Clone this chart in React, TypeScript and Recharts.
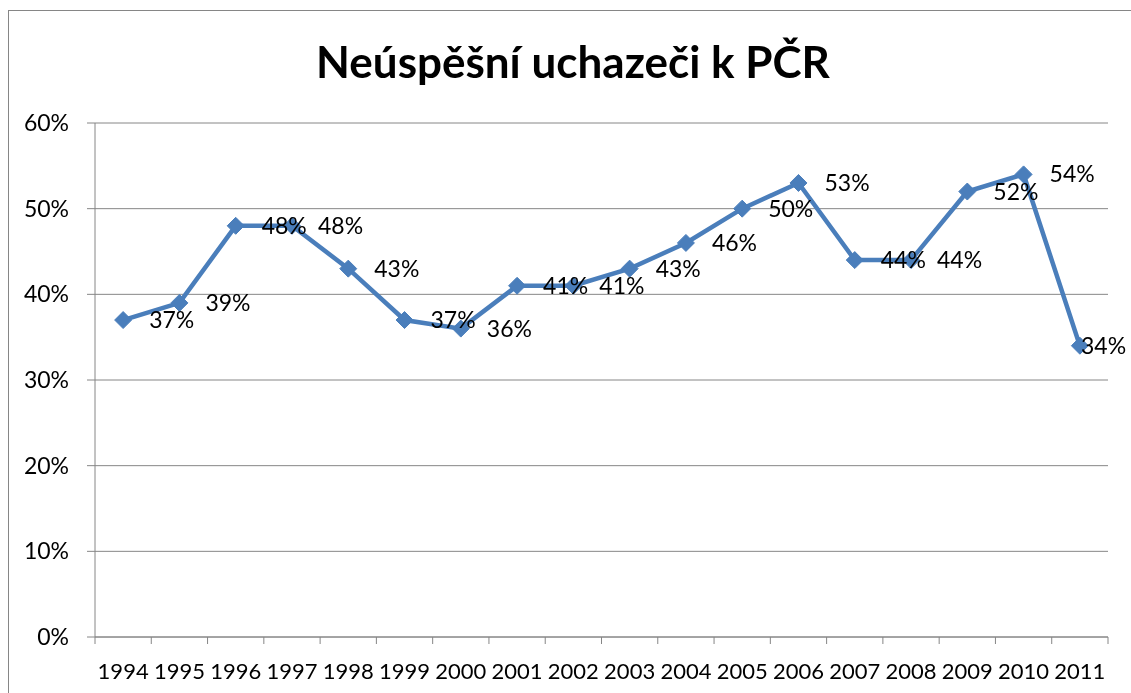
import { CartesianGrid, LabelList, Line, LineChart, XAxis, YAxis } from "recharts";

const years = [
  "1994", "1995", "1996", "1997", "1998", "1999", "2000", "2001", "2002",
  "2003", "2004", "2005", "2006", "2007", "2008", "2009", "2010", "2011",
];
const failedShare = [37, 39, 48, 48, 43, 37, 36, 41, 41, 43, 46, 50, 53, 44, 44, 52, 54, 34];
const yTicks = [0, 10, 20, 30, 40, 50, 60];

const data = years.map((year, i) => ({ year, value: failedShare[i] }));

const FONT = "Lato, 'Open Sans', sans-serif";
const BLUE = "#4A7EBB";
const GRAY = "#868686";
const W = 1123;
const H = 685;
const PLOT_W = 1013;
const HALF = PLOT_W / years.length / 2;
const LABEL_W = 45;

function XTick(props: any) {
  const { x, y, payload, index } = props;
  const axisY = y - 26;
  return (
    <g>
      <line x1={x - HALF} x2={x - HALF} y1={axisY} y2={axisY + 7} stroke={GRAY} strokeWidth={1} />
      {index === years.length - 1 && (
        <line x1={x + HALF} x2={x + HALF} y1={axisY} y2={axisY + 7} stroke={GRAY} strokeWidth={1} />
      )}
      <text x={x} y={y} dy="0.71em" textAnchor="middle" fontFamily={FONT} fontSize={22} fill="#000">
        {payload.value}
      </text>
    </g>
  );
}

function Diamond(props: any) {
  const { cx, cy } = props;
  if (cx == null || cy == null) return null;
  const r = 8.5;
  return (
    <polygon
      points={`${cx},${cy - r} ${cx + r},${cy} ${cx},${cy + r} ${cx - r},${cy}`}
      fill={BLUE}
      stroke={BLUE}
    />
  );
}

function RightLabel(props: any) {
  const { x, y, value } = props;
  // like Excel: keep the label inside the chart box
  const lx = Math.min(x + 26, W - 5 - LABEL_W);
  return (
    <text x={lx} y={y} dy={8} fontFamily={FONT} fontSize={23} fill="#000">
      {`${value}%`}
    </text>
  );
}

export default function App() {
  return (
    <div style={{ position: "fixed", left: 8, top: 8, width: W, height: H }}>
      <div style={{ position: "absolute", left: 0, top: 2, width: W, height: 1, background: GRAY }} />
      <div style={{ position: "absolute", left: 0, top: 2, width: 1, height: H - 2, background: GRAY }} />
      <div
        style={{
          position: "absolute",
          left: 265,
          top: 31,
          width: 600,
          textAlign: "center",
          fontFamily: FONT,
          fontWeight: 700,
          fontSize: 44,
          lineHeight: 1,
          color: "#000",
        }}
      >
        Neúspěšní uchazeči k PČR
      </div>
      <div style={{ position: "absolute", left: 0, top: 0 }}>
        <LineChart width={W} height={H} data={data} margin={{ top: 115, right: 23, bottom: 16, left: 27 }}>
          <CartesianGrid vertical={false} stroke={GRAY} strokeWidth={1} />
          <XAxis
            dataKey="year"
            height={40}
            padding={{ left: HALF, right: HALF }}
            axisLine={{ stroke: GRAY }}
            tickLine={false}
            tickSize={7}
            tickMargin={19}
            interval={0}
            tick={<XTick />}
          />
          <YAxis
            width={60}
            domain={[0, 60]}
            ticks={yTicks}
            tickFormatter={(v) => `${v}%`}
            axisLine={{ stroke: GRAY }}
            tickLine={{ stroke: GRAY }}
            tickSize={8}
            tickMargin={18}
            tick={{ fontFamily: FONT, fontSize: 23, fill: "#000" }}
          />
          <Line
            dataKey="value"
            stroke={BLUE}
            strokeWidth={4.5}
            dot={<Diamond />}
            activeDot={false}
            isAnimationActive={false}
          >
            <LabelList dataKey="value" content={<RightLabel />} />
          </Line>
        </LineChart>
      </div>
    </div>
  );
}
